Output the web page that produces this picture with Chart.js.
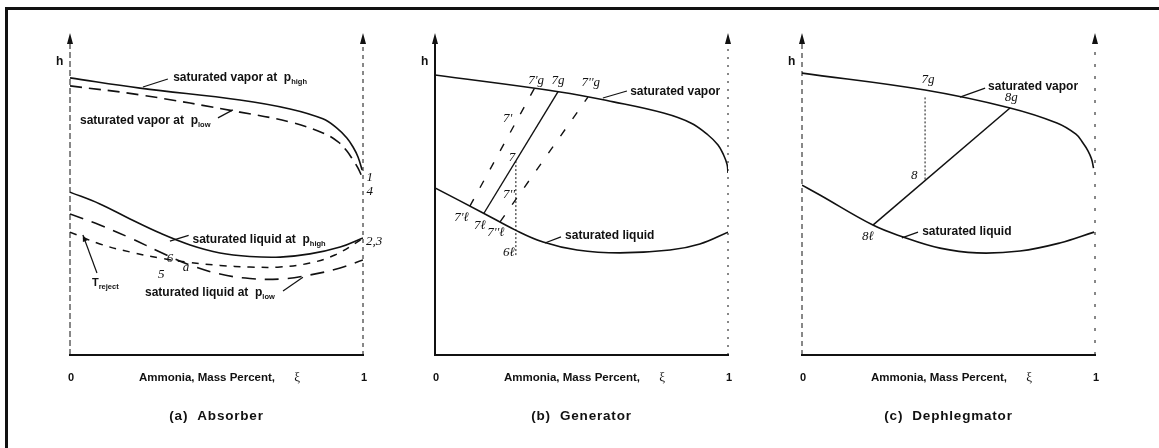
<!DOCTYPE html>
<html><head><meta charset="utf-8">
<script src="https://cdn.jsdelivr.net/npm/chart.js@4.4.1/dist/chart.umd.min.js"></script>
<style>
html,body{margin:0;padding:0;background:#fff;}
#wrap{position:relative;width:1159px;height:448px;overflow:hidden;background:#fff;}
.pane{position:absolute;left:0;top:0;width:1159px;height:448px;}
.frameTop{position:absolute;left:5px;top:7px;width:1154px;height:3px;background:#111;}
.frameLeft{position:absolute;left:5px;top:7px;width:3px;height:441px;background:#111;}
</style></head>
<body><div id="wrap">
<div class="frameTop"></div><div class="frameLeft"></div>
<div class="pane"><canvas id="ca" width="1159" height="448"></canvas></div>
<div class="pane"><canvas id="cb" width="1159" height="448"></canvas></div>
<div class="pane"><canvas id="cc" width="1159" height="448"></canvas></div>
</div>
<script>
// ---------- data (x = ammonia mass fraction xi, y = enthalpy h, arbitrary units) ----------
const xTickValues = [0, 1];
const xTickLabels = ['0', '1'];
const xAxisTitle = 'Ammonia, Mass Percent,';
const xAxisSymbol = 'ξ';
const yAxisTitle = 'h';
const captions = ['(a)  Absorber', '(b)  Generator', '(c)  Dephlegmator'];

// (a) Absorber
const xiVapHighA = [0, 0.239, 0.580, 0.751, 0.863, 0.911, 0.945, 0.966, 0.983, 0.997];
const hVapHighA  = [86.6, 83.4, 79.7, 76.9, 73.8, 70.9, 67.8, 65.0, 61.9, 57.8];
const xiVapLowA  = [0, 0.239, 0.580, 0.751, 0.863, 0.915, 0.945, 0.966, 0.983, 0.997];
const hVapLowA   = [84.1, 81.3, 75.9, 72.8, 69.4, 66.6, 63.75, 60.9, 58.4, 55.6];
const xiLiqHighA = [0, 0.102, 0.205, 0.307, 0.410, 0.512, 0.614, 0.717, 0.819, 0.922, 1.0];
const hLiqHighA  = [50.9, 47.2, 42.5, 38.1, 34.4, 31.9, 30.8, 30.6, 31.6, 33.75, 36.6];
const xiLiqLowA  = [0, 0.102, 0.205, 0.307, 0.410, 0.512, 0.614, 0.717, 0.819, 0.922, 1.0];
const hLiqLowA   = [44.1, 40.6, 36.6, 32.2, 28.1, 25.3, 23.9, 23.75, 25.0, 27.2, 29.7];
const xiRejectA  = [0, 0.102, 0.205, 0.307, 0.410, 0.512, 0.614, 0.717, 0.819, 0.904, 1.0];
const hRejectA   = [38.4, 34.7, 32.2, 30.3, 28.9, 28.0, 27.5, 27.5, 28.75, 31.25, 36.4];

// (b) Generator
const xiVapB = [0, 0.427, 0.609, 0.780, 0.873, 0.932, 0.966, 0.985, 0.997, 1.0];
const hVapB  = [87.5, 82.2, 79.1, 75.6, 72.5, 68.75, 65.6, 62.5, 59.5, 56.9];
const xiLiqB = [0, 0.164, 0.273, 0.369, 0.485, 0.631, 0.802, 0.904, 1.0];
const hLiqB  = [52.2, 44.4, 39.1, 35.3, 32.8, 31.9, 32.8, 34.7, 38.4];
const xiTie7B   = [0.167, 0.420];  const hTie7B   = [44.3, 82.3];
const xiTie7pB  = [0.119, 0.341];  const hTie7pB  = [46.5, 83.6];
const xiTie7ppB = [0.222, 0.522];  const hTie7ppB = [41.6, 80.6];
const xiVert7B  = [0.276, 0.276];  const hVert7B  = [60.6, 31.0];

// (c) Dephlegmator
const xiVapC = [0, 0.420, 0.710, 0.870, 0.935, 0.959, 0.976, 0.988, 0.995];
const hVapC  = [88.1, 82.8, 77.2, 72.5, 69.0, 66.25, 63.8, 61.3, 58.4];
const xiLiqC = [0, 0.061, 0.242, 0.345, 0.471, 0.597, 0.744, 0.880, 0.997];
const hLiqC  = [53.1, 50.0, 40.6, 36.9, 33.4, 31.9, 32.5, 35.0, 38.4];
const xiTieC  = [0.242, 0.710]; const hTieC  = [40.6, 77.2];
const xiVertC = [0.420, 0.420]; const hVertC = [80.5, 54.5];

// ---------- helpers ----------
const pts = (xs, ys) => xs.map((v, i) => ({x: v, y: ys[i]}));
function ds(xs, ys, dash, width, smooth) {
  return {data: pts(xs, ys), borderColor: '#111', borderWidth: width || 1.6,
    borderDash: dash || [], pointRadius: 0, fill: false,
    tension: smooth === false ? 0 : 0.4, cubicInterpolationMode: 'default'};
}
const SANS = '"Liberation Sans", Arial, sans-serif';
const SERIF = '"Liberation Serif", "DejaVu Serif", serif';
const LABEL_FONT = 'bold 12px ' + SANS;
const SUB_FONT = 'bold 7.5px ' + SANS;

function drawParts(ctx, parts, x, y, align, spacing) {
  ctx.textBaseline = 'middle';
  ctx.letterSpacing = spacing || '0px';
  let total = 0;
  parts.forEach(p => { ctx.font = p.sub ? SUB_FONT : (p.font || LABEL_FONT); total += ctx.measureText(p.t).width; });
  let cx = align === 'center' ? x - total / 2 : x;
  parts.forEach(p => {
    ctx.font = p.sub ? SUB_FONT : (p.font || LABEL_FONT);
    ctx.textAlign = 'left';
    ctx.fillText(p.t, cx, p.sub ? y + 4 : y);
    cx += ctx.measureText(p.t).width;
  });
  ctx.letterSpacing = '0px';
}
function vline(ctx, x, y0, y1, dash, w) {
  ctx.setLineDash(dash); ctx.lineWidth = w; ctx.beginPath(); ctx.moveTo(x, y0); ctx.lineTo(x, y1); ctx.stroke();
}
function arrowHead(ctx, x, tip) {
  ctx.setLineDash([]); ctx.beginPath(); ctx.moveTo(x, tip); ctx.lineTo(x - 3, tip + 11); ctx.lineTo(x + 3, tip + 11); ctx.closePath(); ctx.fill();
}

const panelDeco = {
  id: 'panelDeco',
  afterDatasetsDraw(chart, args, o) {
    const {ctx} = chart; const X = chart.scales.x, Y = chart.scales.y;
    const px = v => X.getPixelForValue(v), py = v => Y.getPixelForValue(v);
    ctx.save();
    ctx.strokeStyle = '#111'; ctx.fillStyle = '#111';
    const x0 = px(0), x1 = px(1), yb = py(0), yt = py(100);
    vline(ctx, x0, yb, yt + 8, o.leftDash, o.leftWidth);
    vline(ctx, x1, yb, yt + 8, o.rightDash, o.rightWidth);
    arrowHead(ctx, x0, yt - 2); arrowHead(ctx, x1, yt - 2);
    ctx.setLineDash([]); ctx.lineWidth = 2;
    ctx.beginPath(); ctx.moveTo(x0 - 1, yb); ctx.lineTo(x1 + 1, yb); ctx.stroke();
    // h label
    drawParts(ctx, [{t: yAxisTitle, font: 'bold 12px ' + SANS}], x0 - 14, yt + 27, 'left');
    // tick labels & axis title
    xTickValues.forEach((v, i) => drawParts(ctx, [{t: xTickLabels[i], font: 'bold 11px ' + SANS}], px(v) - 2, yb + 23, 'left'));
    drawParts(ctx, [{t: xAxisTitle + '      ', font: 'bold 11.5px ' + SANS}, {t: xAxisSymbol, font: '13px ' + SERIF}], px(0.51), yb + 23, 'center');
    drawParts(ctx, [{t: o.caption, font: 'bold 13.5px ' + SANS}], px(0.5), yb + 61, 'center', '0.8px');
    // leaders
    ctx.lineWidth = 1.2; ctx.setLineDash([]);
    (o.leaders || []).forEach(l => { ctx.beginPath(); ctx.moveTo(px(l[0]), py(l[1])); ctx.lineTo(px(l[2]), py(l[3])); ctx.stroke(); });
    (o.arrows || []).forEach(l => {
      const ax = px(l[0]), ay = py(l[1]), bx = px(l[2]), by = py(l[3]);
      ctx.beginPath(); ctx.moveTo(ax, ay); ctx.lineTo(bx, by); ctx.stroke();
      const ang = Math.atan2(by - ay, bx - ax);
      ctx.beginPath(); ctx.moveTo(bx, by);
      ctx.lineTo(bx - 7 * Math.cos(ang - 0.35), by - 7 * Math.sin(ang - 0.35));
      ctx.lineTo(bx - 7 * Math.cos(ang + 0.35), by - 7 * Math.sin(ang + 0.35));
      ctx.closePath(); ctx.fill();
    });
    // text labels
    (o.labels || []).forEach(l => drawParts(ctx, l.parts, px(l.x), py(l.y), 'left'));
    ctx.restore();
  }
};

const it = t => ({t, font: 'italic 13px ' + SERIF});
const sa = t => ({t});
const sb = t => ({t, sub: true});

function makeChart(id, datasets, left, right, deco) {
  return new Chart(document.getElementById(id), {
    type: 'line',
    data: {datasets},
    options: {
      responsive: false, animation: false, devicePixelRatio: 1,
      layout: {padding: {left: left, right: 1159 - right, top: 35, bottom: 448 - 355}},
      scales: {
        x: {type: 'linear', min: 0, max: 1, display: false},
        y: {type: 'linear', min: 0, max: 100, display: false}
      },
      plugins: {legend: {display: false}, tooltip: {enabled: false}, title: {display: false}, panelDeco: deco}
    },
    plugins: [panelDeco]
  });
}

makeChart('ca', [
  ds(xiVapHighA, hVapHighA, [], 1.6),
  ds(xiVapLowA, hVapLowA, [12, 7], 1.6),
  ds(xiLiqHighA, hLiqHighA, [], 1.6),
  ds(xiLiqLowA, hLiqLowA, [14, 9], 1.6),
  ds(xiRejectA, hRejectA, [7, 7], 1.5)
], 70, 363, {
  caption: captions[0], leftDash: [6, 3], leftWidth: 1, rightDash: [4, 4], rightWidth: 1,
  leaders: [[0.249, 83.75, 0.334, 86.25], [0.505, 74.1, 0.556, 76.6], [0.341, 35.6, 0.405, 37.4], [0.727, 20.0, 0.795, 24.3]],
  arrows: [[0.092, 25.6, 0.044, 37.5]],
  labels: [
    {x: 0.352, y: 86.6, parts: [sa('saturated vapor at  p'), sb('high')]},
    {x: 0.034, y: 73.1, parts: [sa('saturated vapor at  p'), sb('low')]},
    {x: 1.012, y: 55.6, parts: [it('1')]},
    {x: 1.012, y: 51.2, parts: [it('4')]},
    {x: 0.418, y: 36.0, parts: [sa('saturated liquid at  p'), sb('high')]},
    {x: 1.010, y: 35.3, parts: [it('2,3')]},
    {x: 0.256, y: 19.4, parts: [sa('saturated liquid at  p'), sb('low')]},
    {x: 0.075, y: 22.4, parts: [{t: 'T', font: 'bold 11px ' + SANS}, sb('reject')]},
    {x: 0.300, y: 25.0, parts: [it('5')]},
    {x: 0.330, y: 30.2, parts: [it('6')]},
    {x: 0.385, y: 27.4, parts: [it('a')]}
  ]
});

makeChart('cb', [
  ds(xiVapB, hVapB, [], 1.6),
  ds(xiLiqB, hLiqB, [], 1.6),
  ds(xiTie7B, hTie7B, [], 1.4, false),
  ds(xiTie7pB, hTie7pB, [8, 13], 1.4, false),
  ds(xiTie7ppB, hTie7ppB, [8, 13], 1.4, false),
  ds(xiVert7B, hVert7B, [2, 2], 1, false)
], 435, 728, {
  caption: captions[1], leftDash: [], leftWidth: 2, rightDash: [2, 6], rightWidth: 1,
  leaders: [[0.573, 80.3, 0.655, 82.5], [0.375, 35.0, 0.430, 36.9]],
  labels: [
    {x: 0.318, y: 85.8, parts: [it("7'g")]},
    {x: 0.398, y: 85.8, parts: [it('7g')]},
    {x: 0.500, y: 85.2, parts: [it("7''g")]},
    {x: 0.666, y: 82.2, parts: [sa('saturated vapor')]},
    {x: 0.232, y: 74.0, parts: [it("7'")]},
    {x: 0.252, y: 61.6, parts: [it('7')]},
    {x: 0.232, y: 50.0, parts: [it("7''")]},
    {x: 0.066, y: 43.0, parts: [it("7'ℓ")]},
    {x: 0.133, y: 40.3, parts: [it('7ℓ')]},
    {x: 0.178, y: 38.4, parts: [it("7''ℓ")]},
    {x: 0.232, y: 32.0, parts: [it('6ℓ')]},
    {x: 0.444, y: 37.2, parts: [sa('saturated liquid')]}
  ]
});

makeChart('cc', [
  ds(xiVapC, hVapC, [], 1.6),
  ds(xiLiqC, hLiqC, [], 1.6),
  ds(xiTieC, hTieC, [], 1.5, false),
  ds(xiVertC, hVertC, [2, 2], 1, false)
], 802, 1095, {
  caption: captions[2], leftDash: [5, 4], leftWidth: 1, rightDash: [3, 9], rightWidth: 1,
  leaders: [[0.539, 80.6, 0.625, 83.4], [0.341, 36.6, 0.396, 38.4]],
  labels: [
    {x: 0.408, y: 86.2, parts: [it('7g')]},
    {x: 0.635, y: 84.0, parts: [sa('saturated vapor')]},
    {x: 0.692, y: 80.5, parts: [it('8g')]},
    {x: 0.372, y: 56.0, parts: [it('8')]},
    {x: 0.205, y: 37.0, parts: [it('8ℓ')]},
    {x: 0.410, y: 38.4, parts: [sa('saturated liquid')]}
  ]
});
</script>
</body></html>
